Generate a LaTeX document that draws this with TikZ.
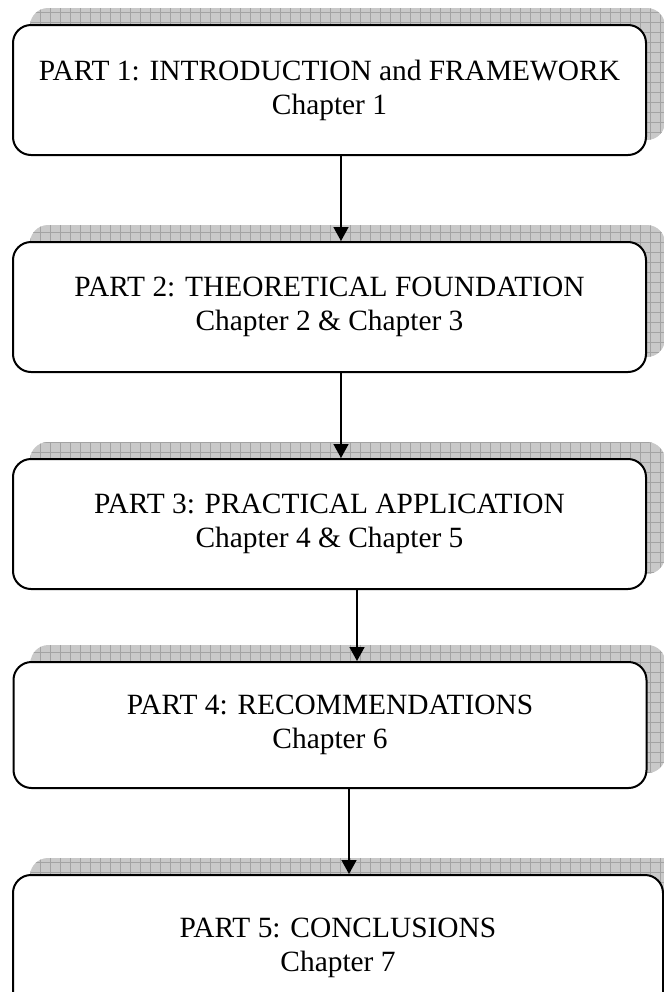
\documentclass[tikz,border=0pt]{standalone}
\usepackage{fontspec}
\setmainfont{Liberation Serif}
\usetikzlibrary{arrows.meta,backgrounds,patterns.meta}

\begin{document}
\begin{tikzpicture}[
  x=0.5pt, y=-0.5pt,
  font=\fontsize{14.7}{17}\selectfont,
  every node/.style={align=center},
  part/.style={draw=black, line width=1pt, rounded corners=9pt, fill=white,
               minimum width=316.5pt, minimum height=65pt, inner sep=0pt},
  shadowgrid/.style={fill=black!21, rounded corners=9pt,
                     postaction={pattern={Hatch[angle=0,distance=5pt,line width=0.4pt]},
                                 pattern color=black!36}},
  fl/.style={-{Triangle[length=7pt,width=7.5pt]}, line width=0.8pt},
]
\useasboundingbox (0,0) rectangle (664,992);
\clip (0,0) rectangle (664,992);

\node[part] (p1) at (329.5,90)  {PART 1: INTRODUCTION and FRAMEWORK\\Chapter 1};
\node[part] (p2) at (329.5,307) {PART 2: THEORETICAL FOUNDATION\\Chapter 2 \& Chapter 3};
\node[part] (p3) at (329.5,524) {PART 3: PRACTICAL APPLICATION\\Chapter 4 \& Chapter 5};
\node[part, minimum height=63pt] (p4) at (330,725) {PART 4: RECOMMENDATIONS\\Chapter 6};
\node[part, minimum width=325pt, minimum height=73pt] (p5) at (338,948)
  {PART 5: CONCLUSIONS\\Chapter 7};

% shadows behind the parts
\begin{scope}[on background layer]
  \foreach \b in {p1,p2,p3,p4,p5}
    \path[shadowgrid] ([shift={(9pt,8pt)}]\b.south west)
                      rectangle ([shift={(9pt,8pt)}]\b.north east);
\end{scope}

\foreach \a/\b/\dx in {p1/p2/5.75pt, p2/p3/5.75pt, p3/p4/13.75pt, p4/p5/9.5pt}
  \draw[fl] ([xshift=\dx]\a.south) -- ([xshift=\dx]\a.south |- \b.north);

\end{tikzpicture}
\end{document}
